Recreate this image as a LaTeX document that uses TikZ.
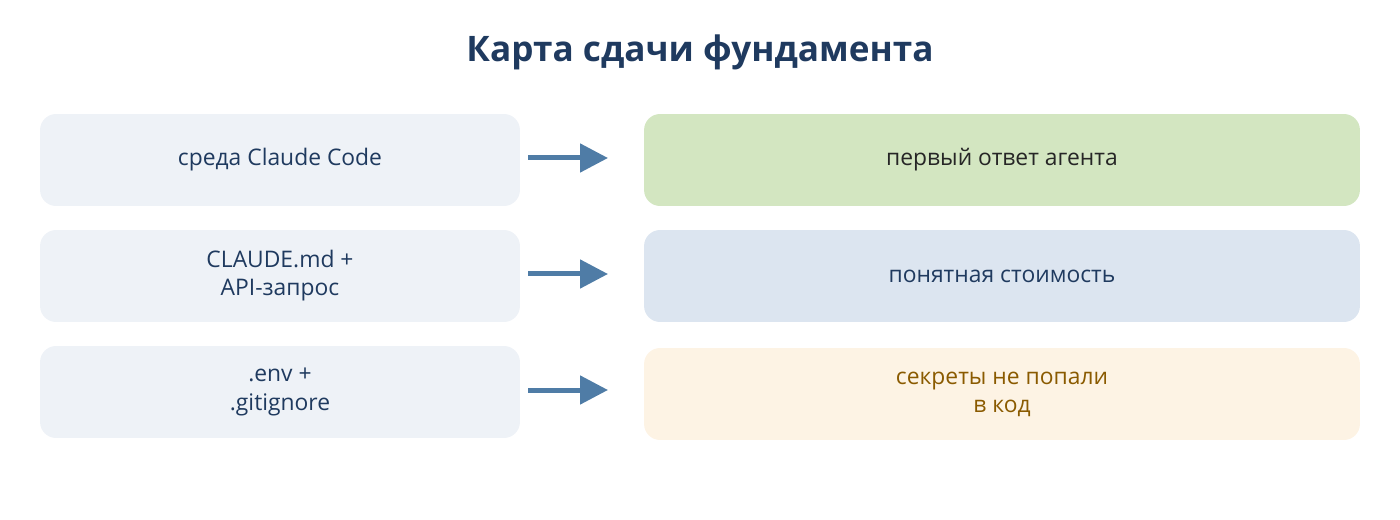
\documentclass[tikz,border=0pt]{standalone}
\usepackage{fontspec}
\setmainfont{Open Sans}
\usetikzlibrary{arrows.meta}
\definecolor{navy}{HTML}{1F3A5F}
\definecolor{leftbg}{HTML}{EEF2F7}
\definecolor{greenbg}{HTML}{D3E6C1}
\definecolor{bluebg}{HTML}{DCE5F0}
\definecolor{orangebg}{HTML}{FDF3E4}
\definecolor{orangetx}{HTML}{8A5A00}
\definecolor{arrowcol}{HTML}{4F7CA6}
\tikzset{
  box/.style={rounded corners=0.32cm, inner sep=0pt, align=center,
    font=\fontsize{13}{16}\selectfont},
  src/.style={box, fill=leftbg, text=navy, minimum width=9.6cm, minimum height=1.84cm},
  dst/.style={box, minimum width=14.32cm, minimum height=1.84cm},
  flow/.style={draw=arrowcol, line width=0.1cm,
    -{Triangle[length=0.56cm,width=0.56cm]}}
}
\begin{document}
\begin{tikzpicture}[x=0.02cm,y=-0.02cm]
\useasboundingbox (0,0) rectangle (1400,520);

\node[text=navy, font=\fontsize{20}{24}\selectfont\bfseries] (title) at (700,52) {Карта сдачи фундамента};

% left column
\node[src] (env) at (280,160) {среда Claude Code};
\node[src] (md) at (280,276) {CLAUDE.md +\\API-запрос};
\node[src] (git) at (280,392) {.env +\\.gitignore};

% right column
\node[dst, fill=greenbg, text=black!85] (answer) at (1002,160) {первый ответ агента};
\node[dst, fill=bluebg, text=navy] (cost) at (1002,276) {понятная стоимость};
\node[dst, fill=orangebg, text=orangetx] (secret) at (1002,394) {секреты не попали\\в код};

% arrows
\foreach \y/\n in {158/a,274/b,390/c}{
  \coordinate (\n1) at (528,\y);
  \coordinate (\n2) at (608,\y);
  \draw[flow] (\n1) -- (\n2);
}
\end{tikzpicture}
\end{document}
